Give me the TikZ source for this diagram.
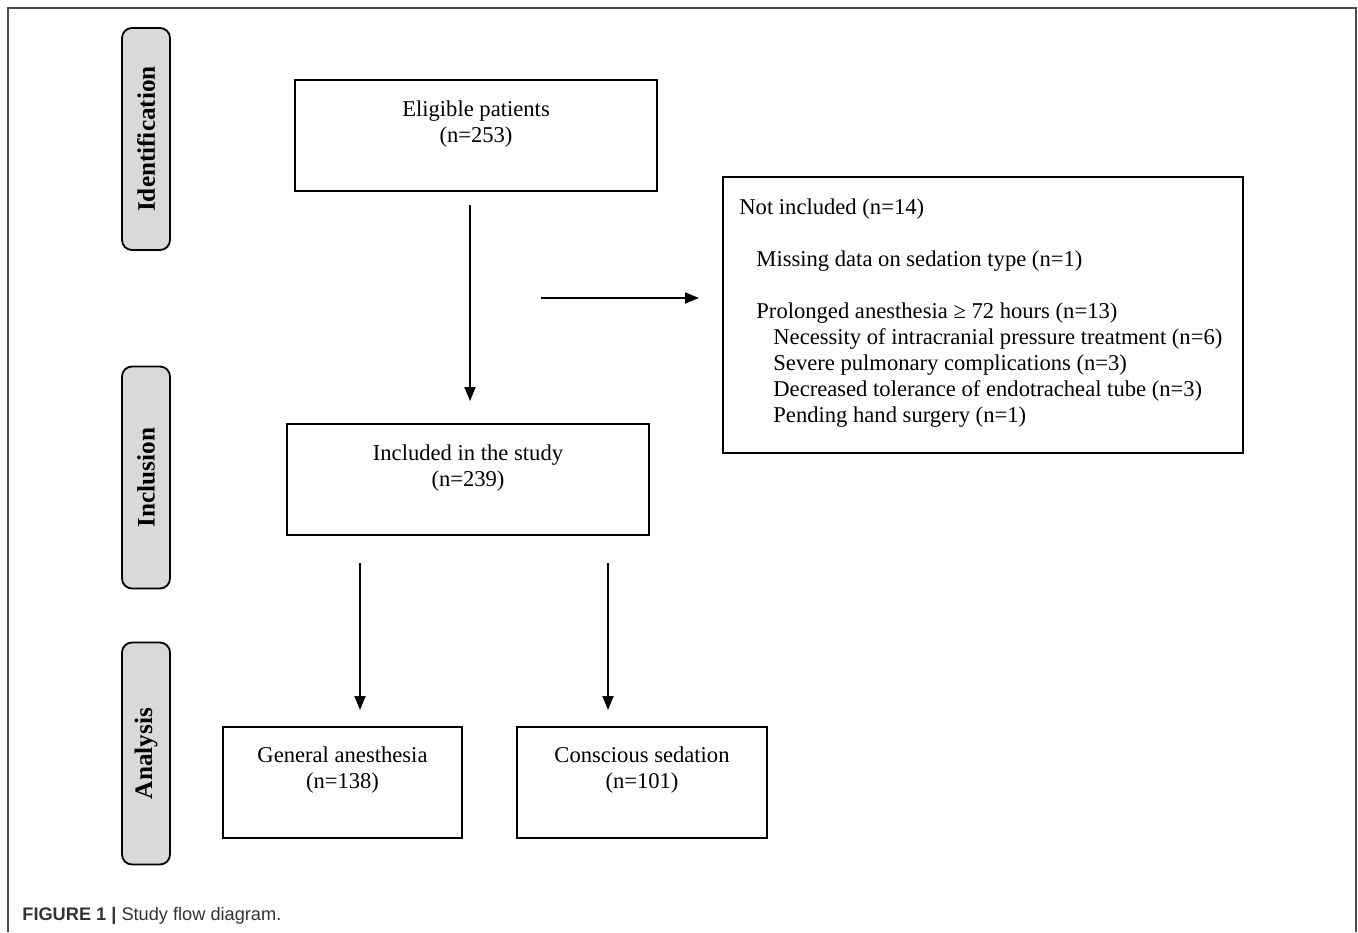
\documentclass[tikz,border=0pt]{standalone}
\usepackage{fontspec}
\setmainfont{Liberation Serif}
\newfontfamily\capfont{Liberation Sans}
\usetikzlibrary{arrows.meta}
\begin{document}
\begin{tikzpicture}[x=0.5pt,y=-0.5pt,
  txt/.style={font=\fontsize{11.3}{13}\selectfont, align=center, inner sep=0pt},
  box/.style={draw=black, line width=1pt, inner sep=0pt},
  side/.style={draw=black, line width=0.9pt, fill=black!15, rounded corners=5pt, inner sep=0pt, minimum width=24pt, minimum height=111pt},
  sidetxt/.style={font=\fontsize{12.6}{13}\selectfont\bfseries, rotate=90, inner sep=0pt},
  arr/.style={line width=0.9pt, -{Triangle[length=7pt,width=5.5pt]}}]
\useasboundingbox (0,0) rectangle (1358,932);
% outer frame
\draw[black!70, line width=0.8pt] (8,932) -- (8,8) -- (1356,8) -- (1356,932);
% side labels
\node[side] (sid) at (146,139) {};
\node[sidetxt] (sidt) at (sid.center) {Identification};
\node[side] (sin) at (146,477.5) {};
\node[sidetxt] (sint) at (sin.center) {Inclusion};
\node[side] (san) at (146,753.5) {};
\node[sidetxt] (sant) at (san.center) {Analysis};
% boxes
\node[box, minimum width=181pt, minimum height=55.5pt] (elig) at (476,135.5) {};
\node[txt] (eligt) at (476,124) {Eligible patients\\(n=253)};
\node[box, minimum width=181pt, minimum height=55.5pt] (incl) at (468,479.5) {};
\node[txt] (inclt) at (468,468) {Included in the study\\(n=239)};
\node[box, minimum width=119.5pt, minimum height=55.5pt] (gen) at (342.5,782.5) {};
\node[txt] (gent) at (342.5,770) {General anesthesia\\(n=138)};
\node[box, minimum width=125pt, minimum height=55.5pt] (con) at (642,782.5) {};
\node[txt] (cont) at (642,770) {Conscious sedation\\(n=101)};
\node[box, minimum width=260pt, minimum height=138pt] (notb) at (983,315) {};
\node[txt, align=left, anchor=north west] (nott) at (739,198) {Not included (n=14)\\[13pt]
\hspace*{8.5pt}Missing data on sedation type (n=1)\\[13pt]
\hspace*{8.5pt}Prolonged anesthesia ≥ 72 hours (n=13)\\
\hspace*{17pt}Necessity of intracranial pressure treatment (n=6)\\
\hspace*{17pt}Severe pulmonary complications (n=3)\\
\hspace*{17pt}Decreased tolerance of endotracheal tube (n=3)\\
\hspace*{17pt}Pending hand surgery (n=1)};
% arrows
\coordinate (a1s) at (470,205);
\coordinate (a1e) at (470,401);
\coordinate (a2s) at (541,298);
\coordinate (a2e) at (699,298);
\coordinate (a3s) at (360,563);
\coordinate (a3e) at (360,710);
\coordinate (a4s) at (608,563);
\coordinate (a4e) at (608,710);
\draw[arr] (a1s) -- (a1e);
\draw[arr] (a2s) -- (a2e);
\draw[arr] (a3s) -- (a3e);
\draw[arr] (a4s) -- (a4e);
% caption
\node[anchor=base west, inner sep=0pt, font=\capfont\fontsize{9.1}{10}\selectfont, text=black!80] (cap) at (22,920) {\textbf{FIGURE 1 |} Study flow diagram.};
\end{tikzpicture}
\end{document}
